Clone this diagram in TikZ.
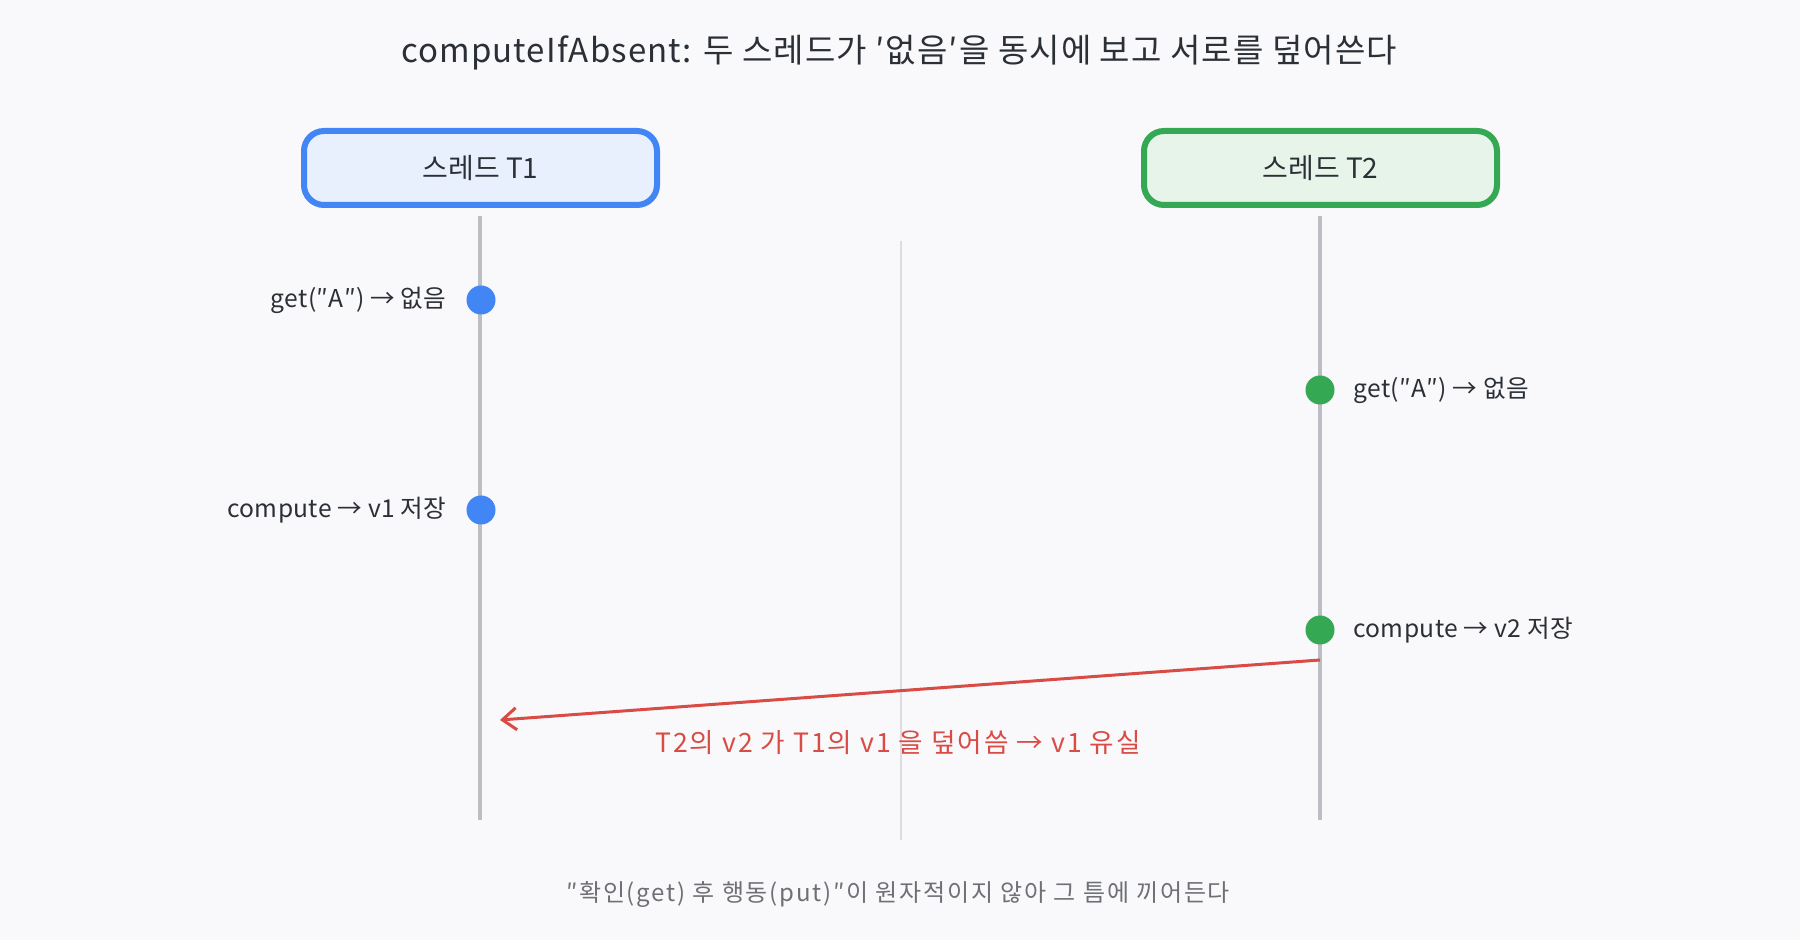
\documentclass[tikz,border=0pt]{standalone}
\usepackage{fontspec}
\setmainfont{Noto Sans CJK KR}
\newfontfamily\spaced[LetterSpace=7.5]{Noto Sans CJK KR}
\newfontfamily\spacedb[LetterSpace=3.4]{Noto Sans CJK KR}
\newfontfamily\spacedc[LetterSpace=1.5]{Noto Sans CJK KR}
\usetikzlibrary{arrows.meta}
\definecolor{bg}{HTML}{F9F9FB}
\definecolor{ink}{HTML}{2B2F36}
\definecolor{blueb}{HTML}{4285F4}
\definecolor{bluef}{HTML}{E8F0FE}
\definecolor{greenb}{HTML}{34A853}
\definecolor{greenf}{HTML}{E6F4EA}
\definecolor{life}{HTML}{BDBEC3}
\definecolor{mid}{HTML}{DCDDE0}
\definecolor{redc}{HTML}{D94B45}
\definecolor{foot}{HTML}{6E7075}
\tikzset{
  thread/.style={draw, line width=3pt, rounded corners=10pt, minimum width=176.5pt, minimum height=37pt, text=ink, font=\fontsize{14}{16}\selectfont},
  lifeline/.style={draw=life, line width=2pt},
  dotnode/.style={circle, minimum size=14.5pt, inner sep=0pt},
  evlabel/.style={text=ink, font=\spacedc\fontsize{12.3}{15}\selectfont, inner sep=0pt},
}
\begin{document}
\begin{tikzpicture}[x=0.5pt, y=-0.5pt]
\fill[bg] (0,0) rectangle (1800,940);
\useasboundingbox (0,0) rectangle (1800,940);
\node[text=ink, font=\spacedb\fontsize{16.5}{19}\selectfont] (title) at (899,53) {computeIfAbsent: 두 스레드가 ′없음′을 동시에 보고 서로를 덮어쓴다};
\node[thread, draw=blueb, fill=bluef] (t1) at (480.5,168) {스레드 T1};
\node[thread, draw=greenb, fill=greenf] (t2) at (1320.5,168) {스레드 T2};
\coordinate (t1top) at (480,216); \coordinate (t1bot) at (480,820);
\coordinate (t2top) at (1320,216); \coordinate (t2bot) at (1320,820);
\coordinate (mtop) at (901,241); \coordinate (mbot) at (901,840);
\draw[draw=mid, line width=0.8pt] (mtop) -- (mbot);
\draw[lifeline] (t1top) -- (t1bot);
\draw[lifeline] (t2top) -- (t2bot);
\node[dotnode, fill=blueb] (d1) at (481,300) {};
\node[dotnode, fill=blueb] (d2) at (481,510) {};
\node[dotnode, fill=greenb] (d3) at (1320,390) {};
\node[dotnode, fill=greenb] (d4) at (1320,630) {};
\node[evlabel, anchor=east] (l1) at (447,300) {get(″A″) → 없음};
\node[evlabel, anchor=east] (l2) at (447,510) {compute → v1 저장};
\node[evlabel, anchor=west] (l3) at (1353,390) {get(″A″) → 없음};
\node[evlabel, anchor=west] (l4) at (1353,630) {compute → v2 저장};
\coordinate (a2) at (1320,660);
\coordinate (a1) at (500,720);
\draw[draw=redc, line width=1.5pt, -{Straight Barb[length=7pt,width=11pt]}] (a2) -- (a1);
\node[text=redc, font=\spaced\fontsize{13.3}{15}\selectfont] (ov) at (898,743) {T2의 v2 가 T1의 v1 을 덮어씀 → v1 유실};
\node[text=foot, font=\spaced\fontsize{12}{14}\selectfont] (ft) at (898,894) {″확인(get) 후 행동(put)″이 원자적이지 않아 그 틈에 끼어든다};
\end{tikzpicture}
\end{document}
